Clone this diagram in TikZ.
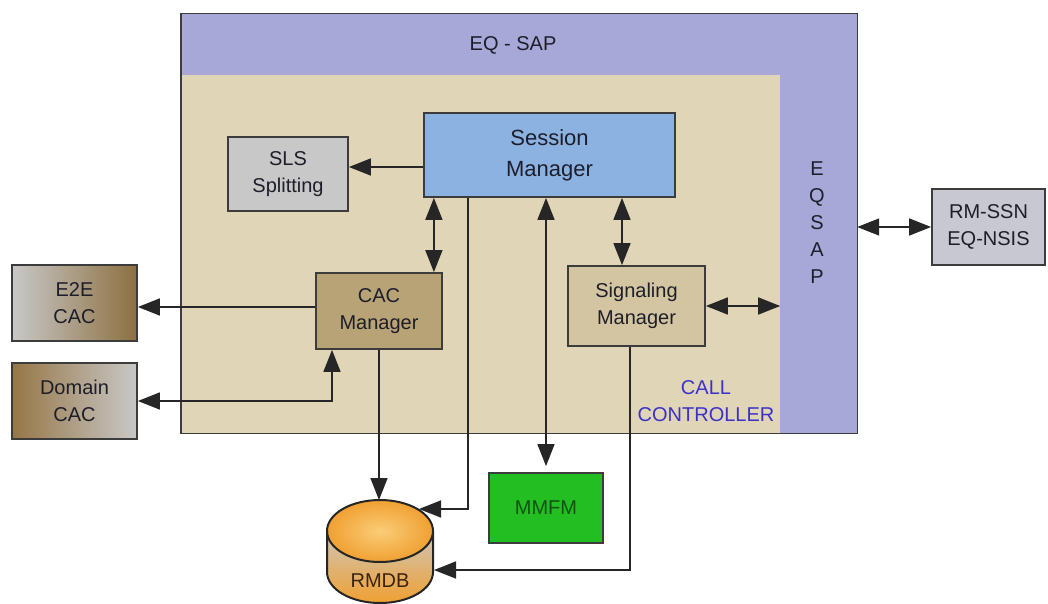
\documentclass[tikz,border=0pt]{standalone}
\usepackage{fontspec}
\setmainfont{Liberation Sans}
\usetikzlibrary{arrows.meta}
\definecolor{sapblue}{RGB}{168,168,216}
\definecolor{ccbeige}{RGB}{224,213,182}
\definecolor{smblue}{RGB}{140,178,226}
\definecolor{slsgray}{RGB}{200,200,200}
\definecolor{cactan}{RGB}{184,163,118}
\definecolor{sigtan}{RGB}{212,197,162}
\definecolor{cacbrown}{RGB}{140,112,64}
\definecolor{dombrown}{RGB}{150,118,70}
\definecolor{rmgray}{RGB}{200,200,210}
\definecolor{mmfmgreen}{RGB}{34,190,34}
\definecolor{mmfmtext}{RGB}{20,80,20}
\definecolor{callblue}{RGB}{60,50,200}
\definecolor{boxline}{RGB}{60,60,60}
\definecolor{txt}{RGB}{30,30,42}
\definecolor{dbgray}{RGB}{205,198,185}
\definecolor{dborange}{RGB}{240,160,50}
\definecolor{dblight}{RGB}{250,205,120}
\definecolor{dbtext}{RGB}{60,35,10}
\tikzset{
  block/.style={draw=boxline, line width=1.8pt, rectangle, align=center, text=txt, font=\fontsize{20}{27}\selectfont, inner sep=0pt},
  label/.style={align=center, text=txt, font=\fontsize{20}{27}\selectfont},
  link/.style={-{Triangle[length=22pt,width=17pt]}, line width=1.6pt, draw=black!85},
  duplex/.style={{Triangle[length=22pt,width=17pt]}-{Triangle[length=22pt,width=17pt]}, line width=1.6pt, draw=black!85}
}
\begin{document}
\begin{tikzpicture}[x=1pt,y=-1pt]
  \useasboundingbox (0,0) rectangle (1048,604);
  \node[fill=sapblue, minimum width=676pt, minimum height=419pt, inner sep=0pt] (sap) at (519,223.5) {};
  \node[fill=ccbeige, minimum width=599pt, minimum height=358pt, inner sep=0pt] (cc) at (480.5,254) {};
  \draw[draw=boxline, line width=1.4pt] (sap.north west) rectangle (sap.south east);
  \node[label] (saptitle) at (513,45) {EQ - SAP};
  \node[label] (sapside) at (817,223) {E\\Q\\S\\A\\P};
  \node[label, text=callblue] (cctitle) at (706,401) {CALL\\CONTROLLER};

  \node[block, fill=smblue, minimum width=251pt, minimum height=84pt, font=\fontsize{22}{31}\selectfont] (sm) at (549.5,155) {Session\\Manager};
  \node[block, fill=slsgray, minimum width=120pt, minimum height=74pt] (sls) at (288,174) {SLS\\Splitting};
  \node[block, fill=cactan, minimum width=126pt, minimum height=76pt] (cac) at (379,311) {CAC\\Manager};
  \node[block, fill=sigtan, minimum width=137pt, minimum height=80pt] (sig) at (636.5,306) {Signaling\\Manager};
  \node[block, left color=slsgray, right color=cacbrown, minimum width=125pt, minimum height=76pt] (e2e) at (74.5,303) {E2E\\CAC};
  \node[block, left color=dombrown, right color=slsgray, minimum width=125pt, minimum height=76pt] (dom) at (74.5,401) {Domain\\CAC};
  \node[block, fill=rmgray, minimum width=113pt, minimum height=76pt] (rmssn) at (988.5,227) {RM-SSN\\EQ-NSIS};
  \node[block, fill=mmfmgreen, text=mmfmtext, minimum width=114pt, minimum height=70pt] (mmfm) at (546,508) {MMFM};

  \begin{scope}[shift={(380,551.5)}]
    \shade[top color=dbgray, bottom color=dborange] (-53,-20.5) -- (-53,20.5) arc[start angle=180, end angle=0, x radius=53, y radius=31] -- (53,-20.5) -- cycle;
    \shade[inner color=dblight, outer color=dborange] (0,-20.5) ellipse [x radius=53, y radius=31];
    \draw[line width=2pt, draw=black!85] (-53,-20.5) -- (-53,20.5) arc[start angle=180, end angle=0, x radius=53, y radius=31] -- (53,-20.5);
    \draw[line width=2pt, draw=black!85] (0,-20.5) ellipse [x radius=53, y radius=31];
    \coordinate (rmdb) at (0,0);
  \end{scope}
  \node[label, text=dbtext] (rmdbtext) at (380,581) {RMDB};
  \coordinate (dbtop) at (380,500);
  \coordinate (dbrim) at (419,509);
  \coordinate (dbside) at (434,570);

  \coordinate (smleft) at ([yshift=-12pt]sm.west);
  \draw[link] (smleft) -- (smleft -| sls.east);
  \coordinate (cactop) at ([xshift=-9pt]cac.north east);
  \draw[duplex] (cactop |- sm.south) -- (cactop);
  \coordinate (sigtop) at ([xshift=-14.5pt]sig.north);
  \draw[duplex] (sigtop |- sm.south) -- (sigtop);
  \draw[duplex, shorten >=6pt] (mmfm.north |- sm.south) -- (mmfm.north);
  \coordinate (smfoot) at ([xshift=-81.5pt]sm.south);
  \draw[link] (smfoot) |- (dbrim);
  \draw[link] (cac.south) -- (cac.south |- dbtop);
  \coordinate (cacleft) at ([yshift=4pt]cac.west);
  \draw[link] (cacleft) -- (cacleft -| e2e.east);
  \coordinate (cacfoot) at ([xshift=-47pt]cac.south);
  \draw[duplex] (cacfoot) |- (dom.east);
  \draw[duplex] (sig.east) -- (sig.east -| cc.east);
  \draw[duplex] (rmssn.west -| sap.east) -- (rmssn.west);
  \coordinate (sigfoot) at ([xshift=-6.5pt]sig.south);
  \draw[link] (sigfoot) |- (dbside);
\end{tikzpicture}
\end{document}
